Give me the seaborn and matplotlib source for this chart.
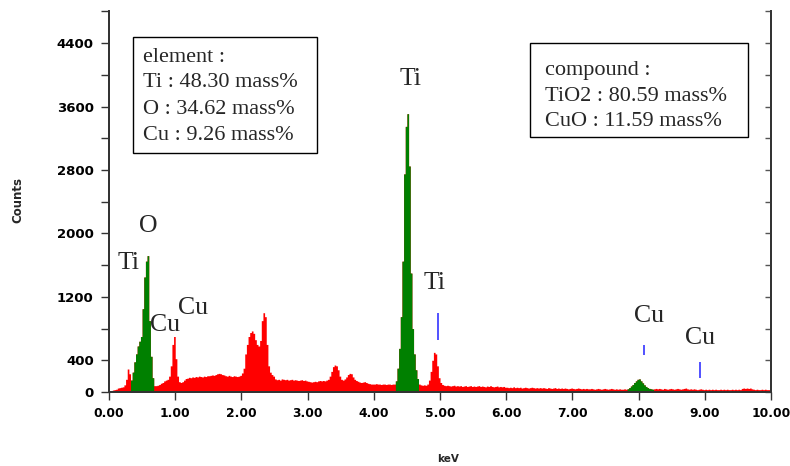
import matplotlib
matplotlib.use("Agg")
import matplotlib.pyplot as plt
import numpy as np
import pandas as pd
import seaborn as sns
from matplotlib.patches import Rectangle

# EDS spectrum, counts per 0.025 keV channel, 0.00 - 10.00 keV (20 channels per row = 0.5 keV)
counts = [
    0, 15, 25, 30, 35, 50, 55, 60, 65, 90, 160, 290, 230, 150, 250, 380, 480, 580, 640, 700,
    1050, 1450, 1650, 1720, 900, 450, 180, 80, 80, 85, 95, 110, 120, 140, 150, 160, 200, 330, 600, 700,
    420, 200, 130, 120, 130, 150, 170, 175, 185, 180, 190, 185, 195, 190, 200, 195, 190, 200, 195, 205,
    205, 210, 215, 210, 220, 230, 235, 230, 220, 215, 205, 200, 210, 200, 195, 205, 200, 195, 200, 210,
    240, 300, 480, 600, 700, 750, 770, 740, 660, 600, 580, 650, 900, 1000, 950, 600, 330, 250, 220, 200,
    165, 155, 160, 150, 165, 160, 155, 160, 150, 155, 160, 150, 155, 150, 145, 150, 155, 145, 150, 140,
    135, 130, 125, 130, 135, 130, 140, 145, 140, 145, 140, 150, 160, 200, 260, 320, 340, 330, 280, 200,
    160, 150, 165, 190, 220, 235, 230, 190, 160, 145, 135, 125, 120, 125, 130, 120, 110, 105, 100, 100,
    100, 105, 100, 100, 95, 100, 100, 95, 100, 100, 95, 100, 100, 140, 300, 550, 950, 1650, 2750, 3350,
    3510, 2850, 1500, 800, 480, 280, 170, 100, 90, 85, 90, 85, 100, 150, 260, 400, 500, 480, 330, 180,
    120, 95, 85, 80, 85, 80, 75, 80, 85, 75, 80, 75, 80, 70, 75, 80, 70, 75, 80, 70,
    75, 70, 75, 80, 70, 75, 70, 65, 75, 70, 80, 70, 65, 70, 75, 65, 70, 65, 70, 60,
    60, 55, 60, 55, 65, 55, 60, 55, 60, 50, 55, 60, 55, 50, 55, 60, 55, 50, 55, 50,
    55, 50, 55, 50, 45, 55, 50, 45, 50, 55, 45, 50, 45, 50, 45, 50, 45, 40, 45, 50,
    45, 40, 45, 50, 45, 40, 45, 40, 45, 40, 40, 45, 40, 35, 40, 45, 40, 35, 40, 45,
    40, 35, 40, 45, 40, 35, 40, 35, 40, 35, 35, 40, 35, 40, 55, 75, 95, 120, 140, 160,
    165, 140, 115, 90, 70, 55, 45, 40, 35, 40, 45, 40, 45, 40, 35, 45, 40, 35, 40, 45,
    40, 35, 40, 45, 40, 35, 40, 45, 50, 40, 35, 40, 35, 40, 35, 30, 35, 40, 35, 30,
    35, 30, 35, 30, 35, 30, 35, 30, 30, 35, 30, 35, 30, 35, 30, 30, 35, 30, 35, 30,
    35, 30, 45, 50, 45, 50, 45, 50, 40, 35, 30, 35, 30, 30, 35, 30, 35, 30, 30, 30,
]
channel_width = 0.025

# fitted peak windows (keV) drawn in green
peak_windows = [(0.325, 0.675), (4.325, 4.675), (7.825, 8.225)]

# peak labels: text, energy (keV), height (counts)
label_text = ["Ti", "O", "Cu", "Cu", "Ti", "Ti", "Cu", "Cu"]
label_energy = [0.30, 0.59, 0.85, 1.27, 4.55, 4.92, 8.16, 8.93]
label_height = [1630, 2090, 845, 1060, 3950, 1375, 960, 680]

# blue line markers: energy, bottom, top (counts)
marker_energy = [4.97, 8.08, 8.93]
marker_low = [650, 470, 175]
marker_high = [1000, 590, 380]

element_lines = ["element :", "Ti : 48.30 mass%", "O : 34.62 mass%", "Cu : 9.26 mass%"]
compound_lines = ["compound :", "TiO2 : 80.59 mass%", "CuO : 11.59 mass%"]

df = pd.DataFrame({"energy": (np.arange(len(counts)) + 0.5) * channel_width, "counts": counts})
in_peak = np.zeros(len(df), dtype=bool)
for lo, hi in peak_windows:
    in_peak |= (df["energy"] > lo) & (df["energy"] < hi)
span = (0, len(counts) * channel_width)

sns.set_style("white")
plt.rcParams["font.family"] = ["DejaVu Sans"]

fig = plt.figure(figsize=(7.9, 4.66), dpi=100)
ax = fig.add_axes([0.138, 0.1588, 0.838, 0.8167])

sns.histplot(data=df, x="energy", weights="counts", binwidth=channel_width, binrange=span,
             element="step", fill=True, color="#ff0000", alpha=1, linewidth=0, ax=ax)
sns.histplot(data=df[in_peak], x="energy", weights="counts", binwidth=channel_width,
             binrange=span, element="step", fill=True, color="#008000", alpha=1,
             linewidth=0, ax=ax)

ax.vlines(marker_energy, marker_low, marker_high, color="#3333ff", lw=1.2)

serif = ["Liberation Serif", "DejaVu Serif"]
for t, e, h in zip(label_text, label_energy, label_height):
    ax.text(e, h, t, ha="center", va="center", fontsize=18.5, family=serif)

ax.set_xlim(0, 10)
ax.set_ylim(0, 4800)
ax.set_xticks(np.arange(0, 11, 1))
ax.set_xticklabels([f"{v:.2f}" for v in range(11)])
yt = np.arange(0, 4801, 400)
ax.set_yticks(yt)
ax.set_yticklabels([str(v) if v in (0, 400, 1200, 2000, 2800, 3600, 4400) else "" for v in yt])

for lab in ax.get_xticklabels():
    lab.set_fontweight("bold")
    lab.set_fontsize(8.8)
for lab in ax.get_yticklabels():
    lab.set_fontweight("bold")
    lab.set_fontsize(9.5)
ax.tick_params(axis="both", which="major", direction="out", length=6, width=1,
               color="#333333", labelcolor="black", pad=5, left=True, bottom=True)

# right spine with inward ticks
ax2 = ax.twinx()
ax2.set_ylim(ax.get_ylim())
ax2.set_yticks(yt)
ax2.set_yticklabels([])
ax2.tick_params(axis="y", direction="in", length=4, color="#555555", width=1)

for a in (ax, ax2):
    a.spines["top"].set_visible(False)
    for s in ("left", "right", "bottom"):
        a.spines[s].set_color("#333333")
        a.spines[s].set_linewidth(1.3)

ax.set_xlabel("keV", fontsize=7.5, fontweight="bold")
ax.set_ylabel("Counts", fontsize=8.5, fontweight="bold")
ax.xaxis.set_label_coords(0.512, -0.163)
ax.yaxis.set_label_coords(-0.128, 0.504)

# composition boxes
fig.patches.append(Rectangle((133 / 790, 1 - 153 / 466), 184 / 790, 116 / 466,
                             transform=fig.transFigure, fill=False, ec="black", lw=1))
fig.patches.append(Rectangle((530 / 790, 1 - 137 / 466), 218 / 790, 94 / 466,
                             transform=fig.transFigure, fill=False, ec="black", lw=1))
for i, line in enumerate(element_lines):
    fig.text(143 / 790, 1 - (57 + 26 * i) / 466, line, ha="left", va="center",
             fontsize=16, family=serif)
for i, line in enumerate(compound_lines):
    fig.text(545 / 790, 1 - (71 + 25.5 * i) / 466, line, ha="left", va="center",
             fontsize=16, family=serif)

fig.savefig("out.png", dpi=100)
